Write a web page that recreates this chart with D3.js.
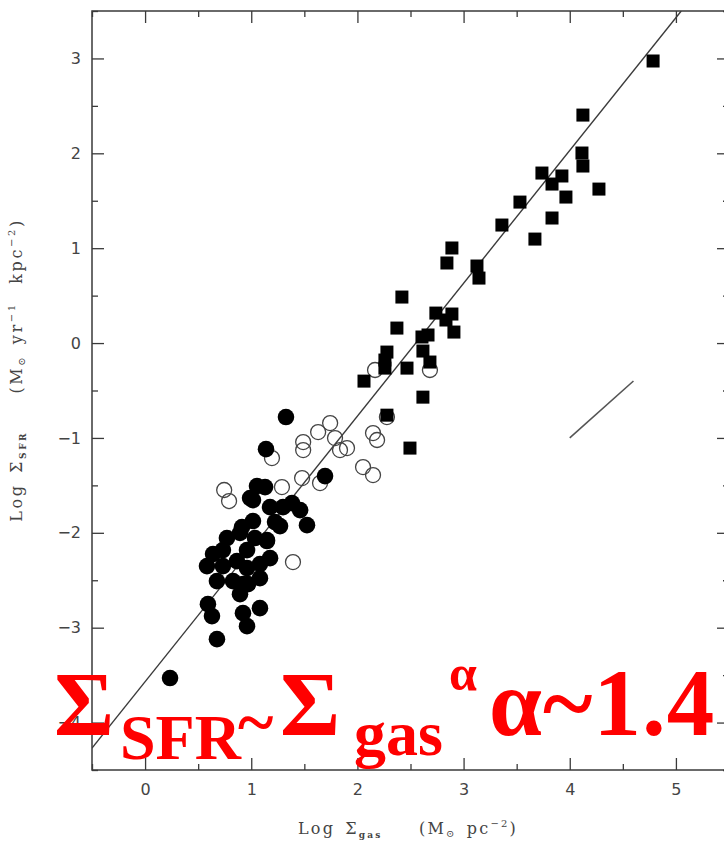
<!DOCTYPE html>
<html><head><meta charset="utf-8">
<script src="https://cdn.jsdelivr.net/npm/d3@7"></script>
<style>
html,body{margin:0;padding:0;background:#fff;}
svg{display:block;}
</style>
</head><body>
<svg id="chart" width="724" height="845"></svg>
<script>
// ---- data ----
const xTicks = [0, 1, 2, 3, 4, 5];
const yTicks = [-4, -3, -2, -1, 0, 1, 2, 3];
const starbursts = [
  [4.785,2.973],[4.124,2.403],[4.115,2.003],[4.124,1.866],[4.275,1.623],[3.738,1.792],
  [3.926,1.761],[3.833,1.676],[3.964,1.539],[3.833,1.318],[3.531,1.486],[3.672,1.096],
  [3.361,1.244],[2.890,1.002],[2.843,0.844],[3.126,0.812],[3.145,0.685],[2.419,0.485],
  [2.372,0.158],[2.739,0.316],[2.890,0.306],[2.834,0.243],[2.909,0.116],[2.608,0.064],
  [2.665,0.085],[2.617,-0.084],[2.278,-0.095],[2.259,-0.179],[2.259,-0.264],[2.683,-0.200],
  [2.467,-0.264],[2.062,-0.401],[2.617,-0.570],[2.278,-0.760],[2.495,-1.107]
];
const diskCenters = [
  [1.743,-0.843],[1.630,-0.938],[1.489,-1.044],[1.489,-1.128],[1.789,-1.001],[1.836,-1.128],
  [1.902,-1.107],[1.195,-1.212],[2.147,-0.949],[2.185,-1.022],[2.053,-1.307],[2.147,-1.391],
  [2.278,-0.780],[1.479,-1.423],[1.648,-1.476],[1.289,-1.518],[0.745,-1.549],[0.791,-1.665],
  [1.393,-2.308],[2.166,-0.284],[2.683,-0.284]
];
const normalDisks = [
  [0.235,-3.531],[1.327,-0.780],[1.139,-1.118],[1.695,-1.402],[1.525,-1.919],[1.054,-1.507],
  [1.130,-1.518],[0.989,-1.634],[1.177,-1.729],[1.384,-1.687],[1.460,-1.761],[1.271,-1.929],
  [0.913,-1.939],[1.016,-1.876],[0.771,-2.055],[0.894,-2.002],[1.035,-2.055],[1.148,-2.087],
  [0.640,-2.224],[0.583,-2.351],[0.733,-2.351],[0.865,-2.298],[0.960,-2.372],[1.082,-2.330],
  [1.177,-2.267],[0.677,-2.509],[0.828,-2.509],[0.969,-2.541],[1.082,-2.478],[0.894,-2.647],
  [0.592,-2.752],[0.630,-2.878],[0.922,-2.847],[1.082,-2.794],[0.960,-2.984],[0.677,-3.121],
  [1.016,-1.655],[1.299,-1.729],[1.224,-1.887],[1.148,-2.076],[0.960,-2.182],[0.733,-2.182],
  [0.922,-2.541]
];
const fitSlope = 1.4;
const fitIntercept = -3.57;
const refSegment = [[4.0,-1.0],[4.6,-0.4]];

// ---- chart ----
const svg = d3.select("#chart");
const x = d3.scaleLinear().domain([-0.5, 5.5]).range([92, 729]);
const y = d3.scaleLinear().domain([-4.5, 3.5]).range([770, 11]);
const ink = "#3a3a3a";

const xMinor = d3.range(-0.5, 5.51, 0.5).filter(v => Math.abs(v - Math.round(v)) > 0.1);
const yMinor = d3.range(-4.5, 3.51, 0.5).filter(v => Math.abs(v - Math.round(v)) > 0.1);

// frame
svg.append("rect").attr("x", x(-0.5)).attr("y", y(3.5))
  .attr("width", x(5.5) - x(-0.5)).attr("height", y(-4.5) - y(3.5))
  .attr("fill", "none").attr("stroke", ink).attr("stroke-width", 1.5);

function styleAxis(g){
  g.select(".domain").remove();
  g.selectAll("line").attr("stroke", ink).attr("stroke-width", 1.3);
  g.selectAll("text").attr("fill", "#444").style("font-family", "DejaVu Sans, sans-serif").style("font-size", "16px");
}
const fmt = d => d < 0 ? "\u2212" + Math.abs(d) : String(d);

svg.append("g").attr("transform", `translate(0,${y(-4.5)})`)
  .call(d3.axisBottom(x).tickValues(xTicks).tickSizeInner(-12).tickSizeOuter(0).tickPadding(14).tickFormat(fmt)).call(styleAxis);
svg.append("g").attr("transform", `translate(0,${y(-4.5)})`)
  .call(d3.axisBottom(x).tickValues(xMinor).tickSizeInner(-6).tickSizeOuter(0).tickFormat("")).call(styleAxis);
svg.append("g").attr("transform", `translate(0,${y(3.5)})`)
  .call(d3.axisTop(x).tickValues(xTicks).tickSizeInner(-12).tickSizeOuter(0).tickFormat("")).call(styleAxis);
svg.append("g").attr("transform", `translate(0,${y(3.5)})`)
  .call(d3.axisTop(x).tickValues(xMinor).tickSizeInner(-6).tickSizeOuter(0).tickFormat("")).call(styleAxis);
svg.append("g").attr("transform", `translate(${x(-0.5)},0)`)
  .call(d3.axisLeft(y).tickValues(yTicks).tickSizeInner(-12).tickSizeOuter(0).tickPadding(11).tickFormat(fmt)).call(styleAxis);
svg.append("g").attr("transform", `translate(${x(-0.5)},0)`)
  .call(d3.axisLeft(y).tickValues(yMinor).tickSizeInner(-6).tickSizeOuter(0).tickFormat("")).call(styleAxis);
svg.append("g").attr("transform", `translate(${x(5.5)},0)`)
  .call(d3.axisRight(y).tickValues(yTicks).tickSizeInner(-12).tickSizeOuter(0).tickFormat("")).call(styleAxis);
svg.append("g").attr("transform", `translate(${x(5.5)},0)`)
  .call(d3.axisRight(y).tickValues(yMinor).tickSizeInner(-6).tickSizeOuter(0).tickFormat("")).call(styleAxis);

// clip
svg.append("clipPath").attr("id", "plotclip").append("rect")
  .attr("x", x(-0.5)).attr("y", y(3.5)).attr("width", x(5.5) - x(-0.5)).attr("height", y(-4.5) - y(3.5));

// fit line
const xEnd = (3.5 - fitIntercept) / fitSlope;
svg.append("line").attr("clip-path", "url(#plotclip)")
  .attr("x1", x(-0.5)).attr("y1", y(fitSlope * -0.5 + fitIntercept))
  .attr("x2", x(xEnd)).attr("y2", y(3.5))
  .attr("stroke", ink).attr("stroke-width", 1.4);
svg.append("line")
  .attr("x1", x(refSegment[0][0])).attr("y1", y(refSegment[0][1]))
  .attr("x2", x(refSegment[1][0])).attr("y2", y(refSegment[1][1]))
  .attr("stroke", "#555").attr("stroke-width", 1.6);

// points
svg.append("g").selectAll("circle").data(diskCenters).join("circle")
  .attr("cx", d => x(d[0])).attr("cy", d => y(d[1])).attr("r", 7.5)
  .attr("fill", "none").attr("stroke", "#444").attr("stroke-width", 1.3);
svg.append("g").selectAll("circle").data(normalDisks).join("circle")
  .attr("cx", d => x(d[0])).attr("cy", d => y(d[1])).attr("r", 8.3)
  .attr("fill", "#000");
const sq = 13;
svg.append("g").selectAll("rect").data(starbursts).join("rect")
  .attr("x", d => x(d[0]) - sq / 2).attr("y", d => y(d[1]) - sq / 2)
  .attr("width", sq).attr("height", sq).attr("fill", "#000");

// axis titles
const serif = "DejaVu Serif, serif";
const xt = svg.append("text").attr("x", 408).attr("y", 834).attr("text-anchor", "middle")
  .attr("fill", "#444").style("font-family", serif).style("font-size", "16px").style("letter-spacing", "2.2px");
xt.append("tspan").text("Log\u2002\u03A3");
xt.append("tspan").attr("dy", 4).style("font-size", "9px").style("font-weight", "bold").text("gas");
xt.append("tspan").attr("dy", -4).text("\u2003\u2003(M");
xt.append("tspan").attr("dy", 3).style("font-size", "10px").text("\u2299");
xt.append("tspan").attr("dy", -3).text("\u2002pc");
xt.append("tspan").attr("dy", -7).style("font-size", "10px").text("\u22122");
xt.append("tspan").attr("dy", 7).text(")");

const yt = svg.append("text").attr("transform", "translate(22,370) rotate(-90)").attr("text-anchor", "middle")
  .attr("fill", "#444").style("font-family", serif).style("font-size", "16px").style("letter-spacing", "2.6px");
yt.append("tspan").text("Log\u2002\u03A3");
yt.append("tspan").attr("dy", 4).style("font-size", "9px").style("font-weight", "bold").text("SFR");
yt.append("tspan").attr("dy", -4).text("\u2003\u2003(M");
yt.append("tspan").attr("dy", 3).style("font-size", "10px").text("\u2299");
yt.append("tspan").attr("dy", -3).text("\u2002yr");
yt.append("tspan").attr("dy", -7).style("font-size", "10px").text("\u22121");
yt.append("tspan").attr("dy", 7).text("\u2003kpc");
yt.append("tspan").attr("dy", -7).style("font-size", "10px").text("\u22122");
yt.append("tspan").attr("dy", 7).text(")");

// red annotation
const red = "#ff0000";
const rf = "Liberation Serif, Times New Roman, serif";
function redText(tx, ty, size, str, ls){
  svg.append("text").attr("x", tx).attr("y", ty).attr("fill", red)
    .style("font-family", rf).style("font-weight", "bold").style("font-size", size + "px")
    .style("letter-spacing", (ls || 0) + "px").text(str);
}
redText(54, 735, 92, "\u03A3");
redText(120, 759, 64, "SFR");
redText(238, 745, 68, "~");
redText(280, 735, 92, "\u03A3");
redText(354, 755, 64, "gas");
redText(449, 690, 50, "\u03B1");
redText(489, 735, 95, "\u03B1~1.4", 1);
</script>
</body></html>
